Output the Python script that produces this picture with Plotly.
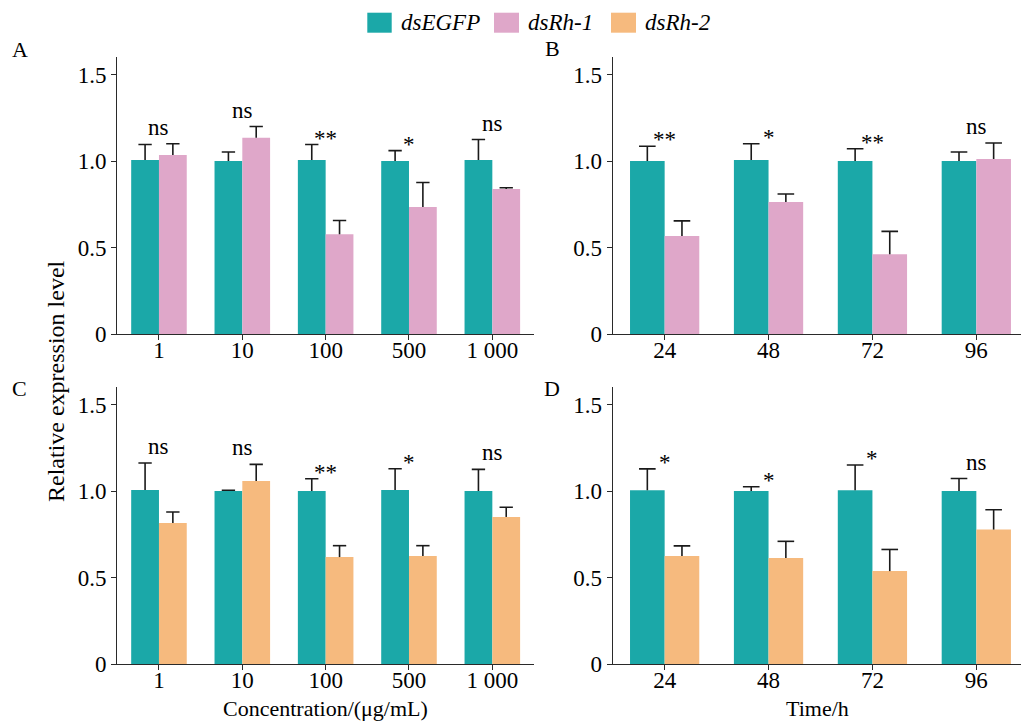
import plotly.graph_objects as go

# ---------------- data ----------------
conc_labels = ["1", "10", "100", "500", "1 000"]
time_labels = ["24", "48", "72", "96"]
series_names = ["dsEGFP", "dsRh-1", "dsRh-2"]

A_egfp = [1.006, 1.000, 1.006, 1.000, 1.006]
A_egfp_err = [0.089, 0.052, 0.089, 0.060, 0.118]
A_rh1 = [1.035, 1.135, 0.577, 0.734, 0.838]
A_rh1_err = [0.065, 0.064, 0.079, 0.142, 0.007]
A_sig = ["ns", "ns", "**", "*", "ns"]

B_egfp = [1.000, 1.006, 1.000, 1.000]
B_egfp_err = [0.085, 0.094, 0.071, 0.052]
B_rh1 = [0.566, 0.763, 0.461, 1.012]
B_rh1_err = [0.088, 0.046, 0.132, 0.092]
B_sig = ["**", "*", "**", "ns"]

C_egfp = [1.006, 1.000, 1.000, 1.006, 1.000]
C_egfp_err = [0.156, 0.004, 0.071, 0.123, 0.125]
C_rh2 = [0.815, 1.058, 0.618, 0.624, 0.850]
C_rh2_err = [0.064, 0.096, 0.066, 0.060, 0.056]
C_sig = ["ns", "ns", "**", "*", "ns"]

D_egfp = [1.004, 1.000, 1.004, 1.000]
D_egfp_err = [0.124, 0.025, 0.146, 0.072]
D_rh2 = [0.625, 0.613, 0.537, 0.777]
D_rh2_err = [0.058, 0.096, 0.125, 0.115]
D_sig = ["*", "*", "*", "ns"]

y_tickvals = [0, 0.5, 1.0, 1.5]
y_ticktext = ["0", "0.5", "1.0", "1.5"]
y_title = "Relative expression level"
x_title_conc = "Concentration/(μg/mL)"
x_title_time = "Time/h"

# ---------------- style ----------------
W, H = 1021, 721
FONT = "Liberation Serif"
TEAL = "#1BA8A8"
PINK = "#DFA7C9"
ORANGE = "#F6BA7E"
AXC = "#2a2a2a"
ERRC = "#1a1a1a"
BARGAP = 1 / 3
BW = (1 - BARGAP) / 2
OFF = BW / 2
CAP_HW = 0.08


def px(x):
    return x / W


def py(y):
    return 1 - y / H


panels = [
    dict(letter="A", n="", labels=conc_labels, ctrl=A_egfp, ctrl_err=A_egfp_err,
         trt=A_rh1, trt_err=A_rh1_err, sig=A_sig, color=PINK),
    dict(letter="B", n="2", labels=time_labels, ctrl=B_egfp, ctrl_err=B_egfp_err,
         trt=B_rh1, trt_err=B_rh1_err, sig=B_sig, color=PINK),
    dict(letter="C", n="3", labels=conc_labels, ctrl=C_egfp, ctrl_err=C_egfp_err,
         trt=C_rh2, trt_err=C_rh2_err, sig=C_sig, color=ORANGE),
    dict(letter="D", n="4", labels=time_labels, ctrl=D_egfp, ctrl_err=D_egfp_err,
         trt=D_rh2, trt_err=D_rh2_err, sig=D_sig, color=ORANGE),
]

fig = go.Figure()
annotations = []

for p in panels:
    xa = "x" + p["n"]
    ya = "y" + p["n"]
    idx = list(range(len(p["labels"])))
    for vals, errs, col, off in [(p["ctrl"], p["ctrl_err"], TEAL, -OFF),
                                 (p["trt"], p["trt_err"], p["color"], OFF)]:
        xs = [i + off for i in idx]
        fig.add_trace(go.Bar(x=xs, y=vals, width=BW, marker=dict(color=col, line=dict(width=0)),
                             xaxis=xa, yaxis=ya, showlegend=False, hoverinfo="skip"))
        ex, ey = [], []
        for x0, v, e in zip(xs, vals, errs):
            ex += [x0, x0, None, x0 - CAP_HW, x0 + CAP_HW, None]
            ey += [v, v + e, None, v + e, v + e, None]
        fig.add_trace(go.Scatter(x=ex, y=ey, mode="lines", line=dict(color=ERRC, width=1.6),
                                 xaxis=xa, yaxis=ya, showlegend=False, hoverinfo="skip"))
    for i, s in enumerate(p["sig"]):
        top = max(p["ctrl"][i] + p["ctrl_err"][i], p["trt"][i] + p["trt_err"][i])
        annotations.append(dict(x=i, y=top, xref=xa, yref=ya, text=s, showarrow=False,
                                xanchor="center", yanchor="bottom",
                                yshift=2 if s == "ns" else -8,
                                font=dict(family=FONT, size=23, color="black")))

xdom_left = [px(117.3), px(534)]
xdom_right = [px(612.7), 1.0]
ydom_top = [py(334), py(334 - 1.6 * 173)]
ydom_bot = [py(664), py(664 - 1.6 * 173)]

tickfont = dict(family=FONT, size=23, color="black")
common_x = dict(showline=True, linecolor=AXC, linewidth=1.3, ticks="outside", ticklen=5,
                tickwidth=1.3, tickcolor=AXC, showgrid=False, zeroline=False, automargin=False,
                tickfont=tickfont, tickmode="array", fixedrange=True, ticklabelstandoff=-10)
common_y = dict(showline=True, linecolor=AXC, linewidth=1.3, ticks="outside", ticklen=5,
                tickwidth=1.3, tickcolor=AXC, showgrid=False, zeroline=False, automargin=False,
                tickfont=tickfont, range=[0, 1.6], tickmode="array",
                tickvals=y_tickvals, ticktext=y_ticktext, fixedrange=True)

layout_axes = {}
for p, xd, yd, xr in [(panels[0], xdom_left, ydom_top, [-0.5, 4.5]),
                      (panels[1], xdom_right, ydom_top, [-0.5, 3.43]),
                      (panels[2], xdom_left, ydom_bot, [-0.5, 4.5]),
                      (panels[3], xdom_right, ydom_bot, [-0.5, 3.43])]:
    n = p["n"]
    layout_axes["xaxis" + n] = dict(common_x, domain=xd, range=xr, anchor="y" + n,
                                    tickvals=list(range(len(p["labels"]))), ticktext=p["labels"])
    layout_axes["yaxis" + n] = dict(common_y, domain=yd, anchor="x" + n)

# panel letters
for letter, x, y in [("A", 19.5, 50), ("B", 552, 49), ("C", 19.5, 388), ("D", 552, 388)]:
    annotations.append(dict(x=px(x), y=py(y), xref="paper", yref="paper", text=letter,
                            showarrow=False, xanchor="center", yanchor="middle",
                            font=dict(family=FONT, size=22, color="black")))

# axis titles
annotations.append(dict(x=px(56), y=py(381), xref="paper", yref="paper", text=y_title,
                        textangle=-90, showarrow=False, xanchor="center", yanchor="middle",
                        font=dict(family=FONT, size=24, color="black")))
annotations.append(dict(x=px(325.5), y=py(708), xref="paper", yref="paper", text=x_title_conc,
                        showarrow=False, xanchor="center", yanchor="middle",
                        font=dict(family=FONT, size=22, color="black")))
annotations.append(dict(x=px(817), y=py(708), xref="paper", yref="paper", text=x_title_time,
                        showarrow=False, xanchor="center", yanchor="middle",
                        font=dict(family=FONT, size=22, color="black")))

# legend (drawn manually to match the large swatches)
shapes = []
for name, col, rx0, rx1, tx in [(series_names[0], TEAL, 367.3, 391.7, 399.3),
                                (series_names[1], PINK, 494, 519, 525.7),
                                (series_names[2], ORANGE, 611, 636, 642.7)]:
    shapes.append(dict(type="rect", xref="paper", yref="paper", x0=px(rx0), x1=px(rx1),
                       y0=py(32.7), y1=py(12.7), fillcolor=col, line=dict(width=0)))
    annotations.append(dict(x=px(tx), y=py(22.7), xref="paper", yref="paper",
                            text="<i>" + name + "</i>", showarrow=False,
                            xanchor="left", yanchor="middle",
                            font=dict(family=FONT, size=23, color="black")))

fig.update_layout(
    width=W, height=H,
    margin=dict(l=0, r=0, t=0, b=0, pad=0, autoexpand=False),
    paper_bgcolor="white", plot_bgcolor="white",
    barmode="overlay",
    showlegend=False,
    annotations=annotations,
    shapes=shapes,
    **layout_axes,
)

post = "document.body.style.margin='0';document.body.style.overflow='hidden';"

fig.write_html("out.html", config={"displayModeBar": False}, post_script=post)
